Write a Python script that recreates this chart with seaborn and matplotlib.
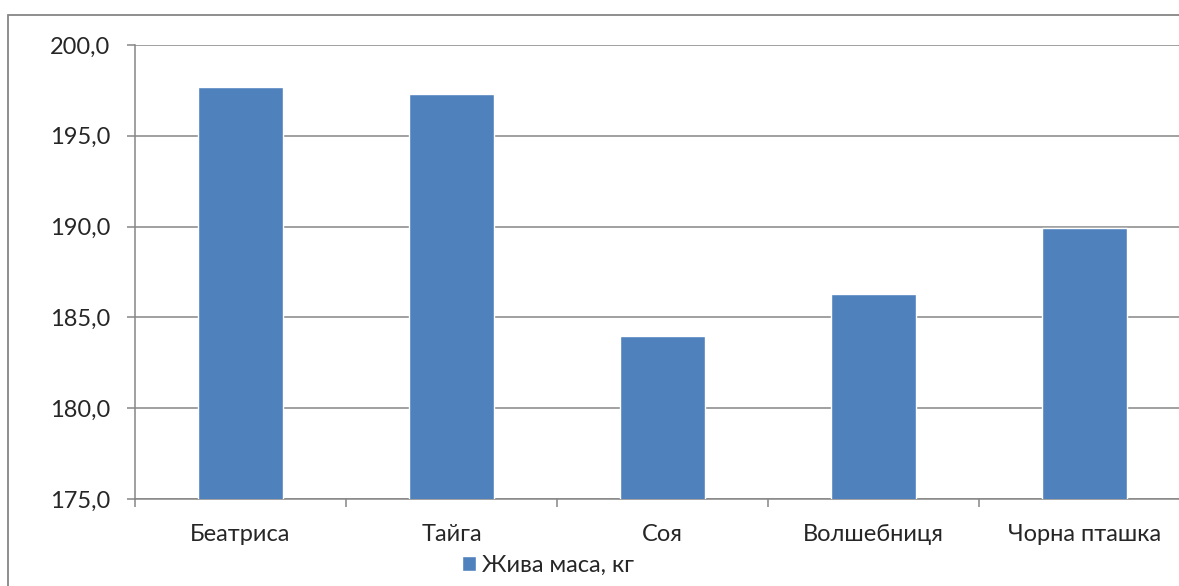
import matplotlib
matplotlib.use("Agg")
import matplotlib.pyplot as plt
import matplotlib.ticker as mticker
import seaborn as sns
from matplotlib.patches import Rectangle

# Дані
categories = ["Беатриса", "Тайга", "Соя", "Волшебниця", "Чорна пташка"]
values = [197.7, 197.3, 184.0, 186.3, 189.9]
series_name = "Жива маса, кг"
yticks = [175, 180, 185, 190, 195, 200]

sns.set_style("white")
plt.rcParams["font.family"] = ["Lato", "DejaVu Sans"]
fs = 17

grey = "#868686"
fig = plt.figure(figsize=(11.79, 5.86), dpi=100)
ax = fig.add_axes([0.1145, 0.1485, 0.8948, 0.7747])

sns.barplot(x=categories, y=values, color="#4F81BD", width=0.4,
            saturation=1, label=series_name, ax=ax, zorder=3)

ax.set_ylim(175, 200)
ax.set_xlim(-0.5, len(categories) - 0.5)
ax.set_yticks(yticks)
ax.yaxis.set_major_formatter(mticker.FuncFormatter(lambda v, p: f"{v:.1f}".replace(".", ",")))
ax.yaxis.grid(True, color=grey, linewidth=1.1, zorder=0)
ax.set_axisbelow(True)

for s in ["top", "right"]:
    ax.spines[s].set_visible(False)
for s in ["left", "bottom"]:
    ax.spines[s].set_color(grey)
    ax.spines[s].set_linewidth(1.1)

ax.tick_params(axis="y", left=True, length=6, color=grey, width=1.1, pad=12, labelsize=fs)
ax.set_xticks([i + 0.5 for i in range(-1, len(categories))], minor=True)
ax.tick_params(axis="x", which="minor", bottom=True, length=6, color=grey, width=1.1)
ax.tick_params(axis="x", which="major", bottom=False, length=0, pad=18, labelsize=fs)
ax.set_xlabel("")
ax.set_ylabel("")

if ax.get_legend():
    ax.get_legend().remove()
h, l = ax.get_legend_handles_labels()
fig.legend(h, l, loc="center", bbox_to_anchor=(0.465, 0.036), frameon=False,
           handlelength=0.6, handleheight=0.6, handletextpad=0.25, fontsize=fs,
           borderpad=0.1)

# Рамка діаграми
fig.patches.append(Rectangle((8 / 1179, -0.05), 1.2, 1.05 - 15 / 586,
                             transform=fig.transFigure, fill=False,
                             edgecolor=grey, linewidth=1.3))

fig.savefig("out.png", dpi=100)
